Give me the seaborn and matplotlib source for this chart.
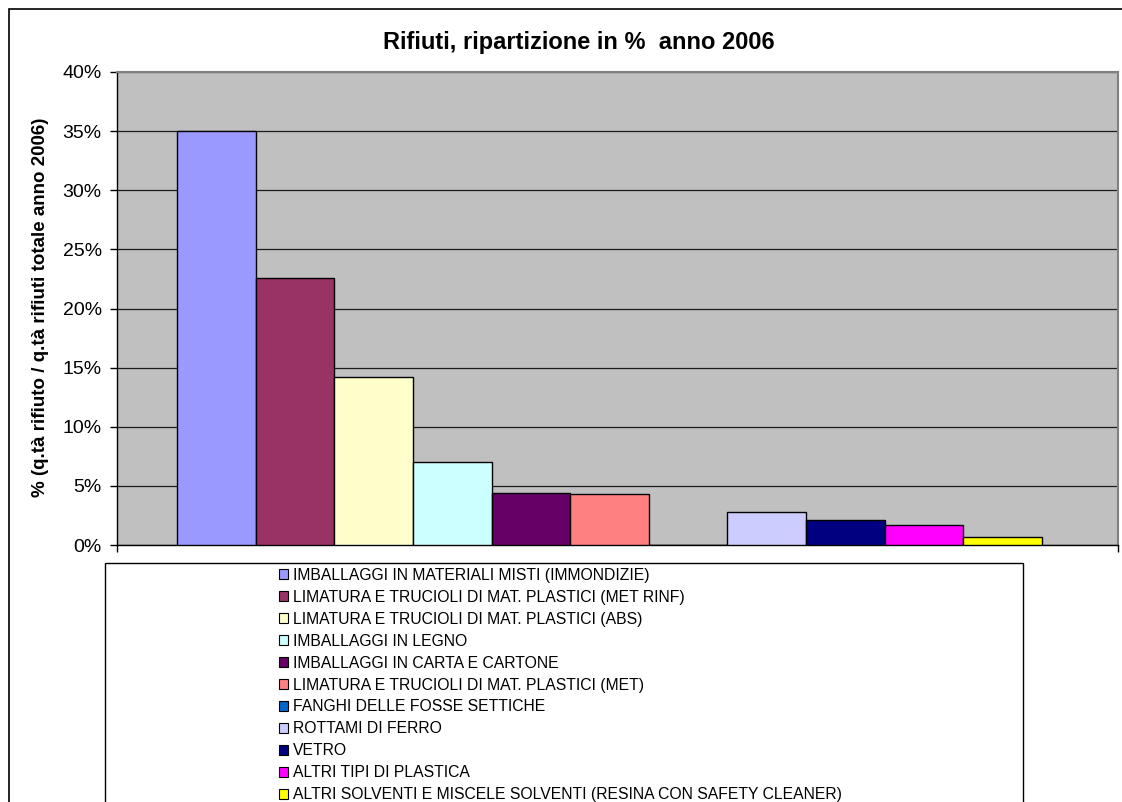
import pandas as pd
import matplotlib
matplotlib.use("Agg")
import matplotlib.pyplot as plt
import seaborn as sns
from matplotlib.patches import Patch, Rectangle
from matplotlib.ticker import PercentFormatter

# dati (percentuale sul totale rifiuti 2006)
rifiuti = [
    "IMBALLAGGI IN MATERIALI MISTI (IMMONDIZIE)",
    "LIMATURA E TRUCIOLI DI MAT. PLASTICI (MET RINF)",
    "LIMATURA E TRUCIOLI DI MAT. PLASTICI (ABS)",
    "IMBALLAGGI IN LEGNO",
    "IMBALLAGGI IN CARTA E CARTONE",
    "LIMATURA E TRUCIOLI DI MAT. PLASTICI (MET)",
    "FANGHI DELLE FOSSE SETTICHE",
    "ROTTAMI DI FERRO",
    "VETRO",
    "ALTRI TIPI DI PLASTICA",
    "ALTRI SOLVENTI E MISCELE SOLVENTI (RESINA CON SAFETY CLEANER)",
]
percentuali = [35.0, 22.6, 14.2, 7.0, 4.4, 4.3, 0.0, 2.75, 2.1, 1.65, 0.65]
colori = ["#9999FF", "#993366", "#FFFFCC", "#CCFFFF", "#660066", "#FF8080",
          "#0066CC", "#CCCCFF", "#000080", "#FF00FF", "#FFFF00"]
anno = ["2006"] * len(rifiuti)

df = pd.DataFrame({"anno": anno, "rifiuto": rifiuti, "perc": percentuali})

sns.set_style("white")
plt.rcParams["font.family"] = ["Liberation Sans", "DejaVu Sans"]
plt.rcParams["text.color"] = "black"
plt.rcParams["xtick.color"] = "black"
plt.rcParams["ytick.color"] = "black"

fig = plt.figure(figsize=(11.22, 8.02), dpi=100)
W, H = 1122, 802
ax = fig.add_axes([117 / W, 1 - 545 / H, (1118 - 117) / W, (545 - 72) / H])

sns.barplot(data=df, x="anno", y="perc", hue="rifiuto", hue_order=rifiuti,
            palette=dict(zip(rifiuti, colori)), saturation=1, width=0.864,
            edgecolor="black", linewidth=1, ax=ax, legend=False, zorder=3)

ax.set_facecolor("#C0C0C0")
ax.set_ylim(0, 40)
ax.set_xlim(-0.492, 0.508)
ax.set_yticks(range(0, 41, 5))
ax.yaxis.set_major_formatter(PercentFormatter(xmax=100, decimals=0))
ax.grid(axis="y", color="#1a1a1a", linewidth=0.9, zorder=1)
ax.set_axisbelow(True)
ax.set_xticks([-0.492, 0.508])
ax.set_xticklabels(["", ""])
ax.set_xlabel("")
ax.set_ylabel("")
ax.tick_params(axis="both", direction="out", length=5, width=1, color="black",
               left=True, bottom=True, labelsize=14, labelcolor="black", pad=6)

for side in ["left", "bottom"]:
    ax.spines[side].set_color("black")
    ax.spines[side].set_linewidth(1)
for side in ["top", "right"]:
    ax.spines[side].set_color("#808080")
    ax.spines[side].set_linewidth(1.5)

fig.text(579 / W, 1 - 42 / H, "Rifiuti, ripartizione in %  anno 2006",
         ha="center", va="center", fontsize=17, fontweight="bold")
fig.text(41 / W, 1 - 307 / H, "% (q.tà rifiuto / q.tà rifiuti totale anno 2006)",
         ha="center", va="center", rotation=90, fontsize=13.5, fontweight="bold")

# cornice esterna del grafico e del riquadro legenda
fig.patches.append(Rectangle((9 / W, -0.1), 1.1, 1 - 9 / H + 0.1,
                             transform=fig.transFigure, fill=False,
                             edgecolor="black", linewidth=1.2))
fig.patches.append(Rectangle((105 / W, -0.1), (1023 - 105) / W, 1 - 563 / H + 0.1,
                             transform=fig.transFigure, fill=False,
                             edgecolor="black", linewidth=1))

handles = [Patch(facecolor=c, edgecolor="black", linewidth=0.8) for c in colori]
fig.legend(handles, rifiuti, loc="upper left",
           bbox_to_anchor=(279 / W, 1 - 568 / H), frameon=False,
           fontsize=11.3, handlelength=0.6, handleheight=0.6,
           handletextpad=0.3, labelspacing=0.44, borderaxespad=0,
           borderpad=0)

fig.savefig("out.png", dpi=100)
